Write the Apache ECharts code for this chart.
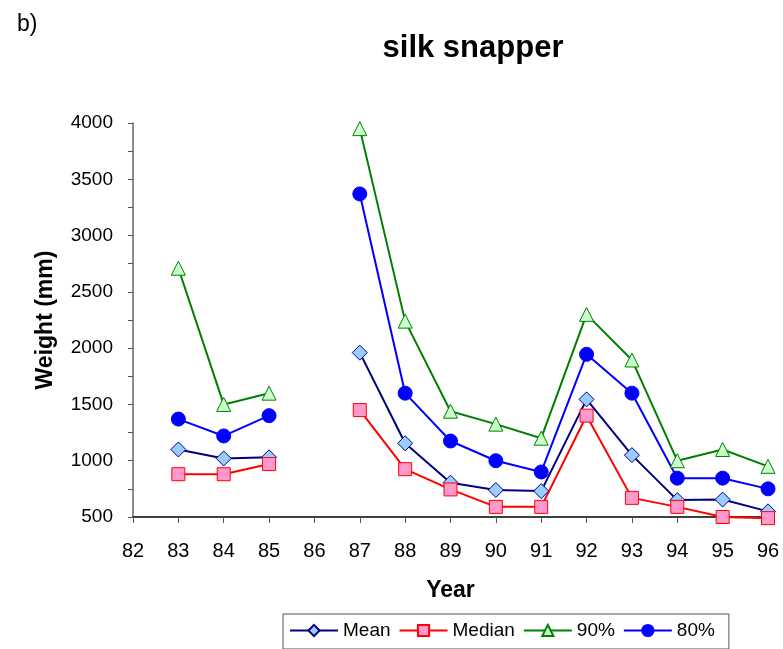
<!DOCTYPE html>
<html><head><meta charset="utf-8">
<script src="https://cdn.jsdelivr.net/npm/echarts@6/dist/echarts.min.js"></script>
<style>html,body{margin:0;padding:0;background:#fff}#c{width:783px;height:649px}</style>
</head><body><div id="c"></div>
<script>
const years = [82, 83, 84, 85, 86, 87, 88, 89, 90, 91, 92, 93, 94, 95, 96];
const meanVals   = [null, 1100, 1020, 1030, null, 1960, 1155, 805, 740, 730, 1545, 1050, 650, 655, 550];
const medianVals = [null, 880, 880, 970, null, 1450, 925, 745, 590, 590, 1400, 670, 590, 500, 490];
const p90Vals    = [null, 2710, 1500, 1600, null, 3950, 2240, 1440, 1325, 1200, 2300, 1895, 1000, 1100, 950];
const p80Vals    = [null, 1370, 1220, 1400, null, 3370, 1600, 1175, 1000, 900, 1945, 1600, 845, 845, 750];
const yTicks = [500, 1000, 1500, 2000, 2500, 3000, 3500, 4000];

const pairs = v => years.map((y, i) => [y, v[i]]);
const font = 'Liberation Sans, Arial, sans-serif';
function mk(name, vals, lineColor, symbol, size, fill, border) {
  return {
    name, type: 'line', data: pairs(vals), connectNulls: false,
    symbol, symbolSize: size, showSymbol: true, clip: false,
    lineStyle: { color: lineColor, width: 2 },
    itemStyle: { color: fill, borderColor: border, borderWidth: 1 },
    emphasis: { disabled: true }
  };
}
const chart = echarts.init(document.getElementById('c'));
chart.setOption({
  animation: false,
  backgroundColor: '#fff',
  title: [
    { text: 'silk snapper', left: 468, top: 28, textAlign: 'center',
      textStyle: { fontFamily: font, fontSize: 31, fontWeight: 'bold', color: '#000' } },
    { text: 'b)', left: 12, top: 8,
      textStyle: { fontFamily: font, fontSize: 23, fontWeight: 'normal', color: '#000' } }
  ],
  grid: { left: 133, right: 15, top: 123, bottom: 132 },
  legend: {
    left: 283, top: 614,
    borderColor: '#555', borderWidth: 1, padding: [7, 14, 9, 6],
    itemWidth: 48, itemHeight: 14, itemGap: 8,
    textStyle: { fontFamily: font, fontSize: 19, color: '#000' },
    data: ['Mean', 'Median', '90%', '80%']
  },
  xAxis: {
    type: 'value', min: 82, max: 96, interval: 1,
    name: 'Year', nameLocation: 'middle', nameGap: 62,
    nameTextStyle: { fontFamily: font, fontSize: 23, fontWeight: 'bold', color: '#000' },
    axisLine: { lineStyle: { color: '#000', width: 1.5 } },
    axisTick: { show: true, length: 6, lineStyle: { color: '#555' } },
    axisLabel: { fontFamily: font, fontSize: 20, color: '#000', margin: 24 },
    splitLine: { show: false }
  },
  yAxis: {
    type: 'value', min: yTicks[0], max: yTicks[yTicks.length - 1], interval: 500,
    name: 'Weight (mm)', nameLocation: 'middle', nameGap: 76, nameRotate: 90,
    nameTextStyle: { fontFamily: font, fontSize: 23, fontWeight: 'bold', color: '#000' },
    axisLine: { show: true, lineStyle: { color: '#666', width: 1.5 } },
    axisTick: { show: true, length: 5, lineStyle: { color: '#555' } },
    minorTick: { show: true, splitNumber: 2, length: 5, lineStyle: { color: '#555' } },
    axisLabel: { fontFamily: font, fontSize: 19, color: '#000', margin: 20, formatter: v => String(v) },
    splitLine: { show: false }
  },
  series: [
    mk('Mean', meanVals, '#000080', 'diamond', 15, '#99CCFF', '#000080'),
    mk('Median', medianVals, '#FF0000', 'rect', 13, '#FF99CC', '#FF0000'),
    mk('90%', p90Vals, '#008000', 'triangle', 14, '#CCFFCC', '#008000'),
    mk('80%', p80Vals, '#0000FF', 'circle', 14, '#0000FF', '#0000FF')
  ]
});
</script></body></html>
